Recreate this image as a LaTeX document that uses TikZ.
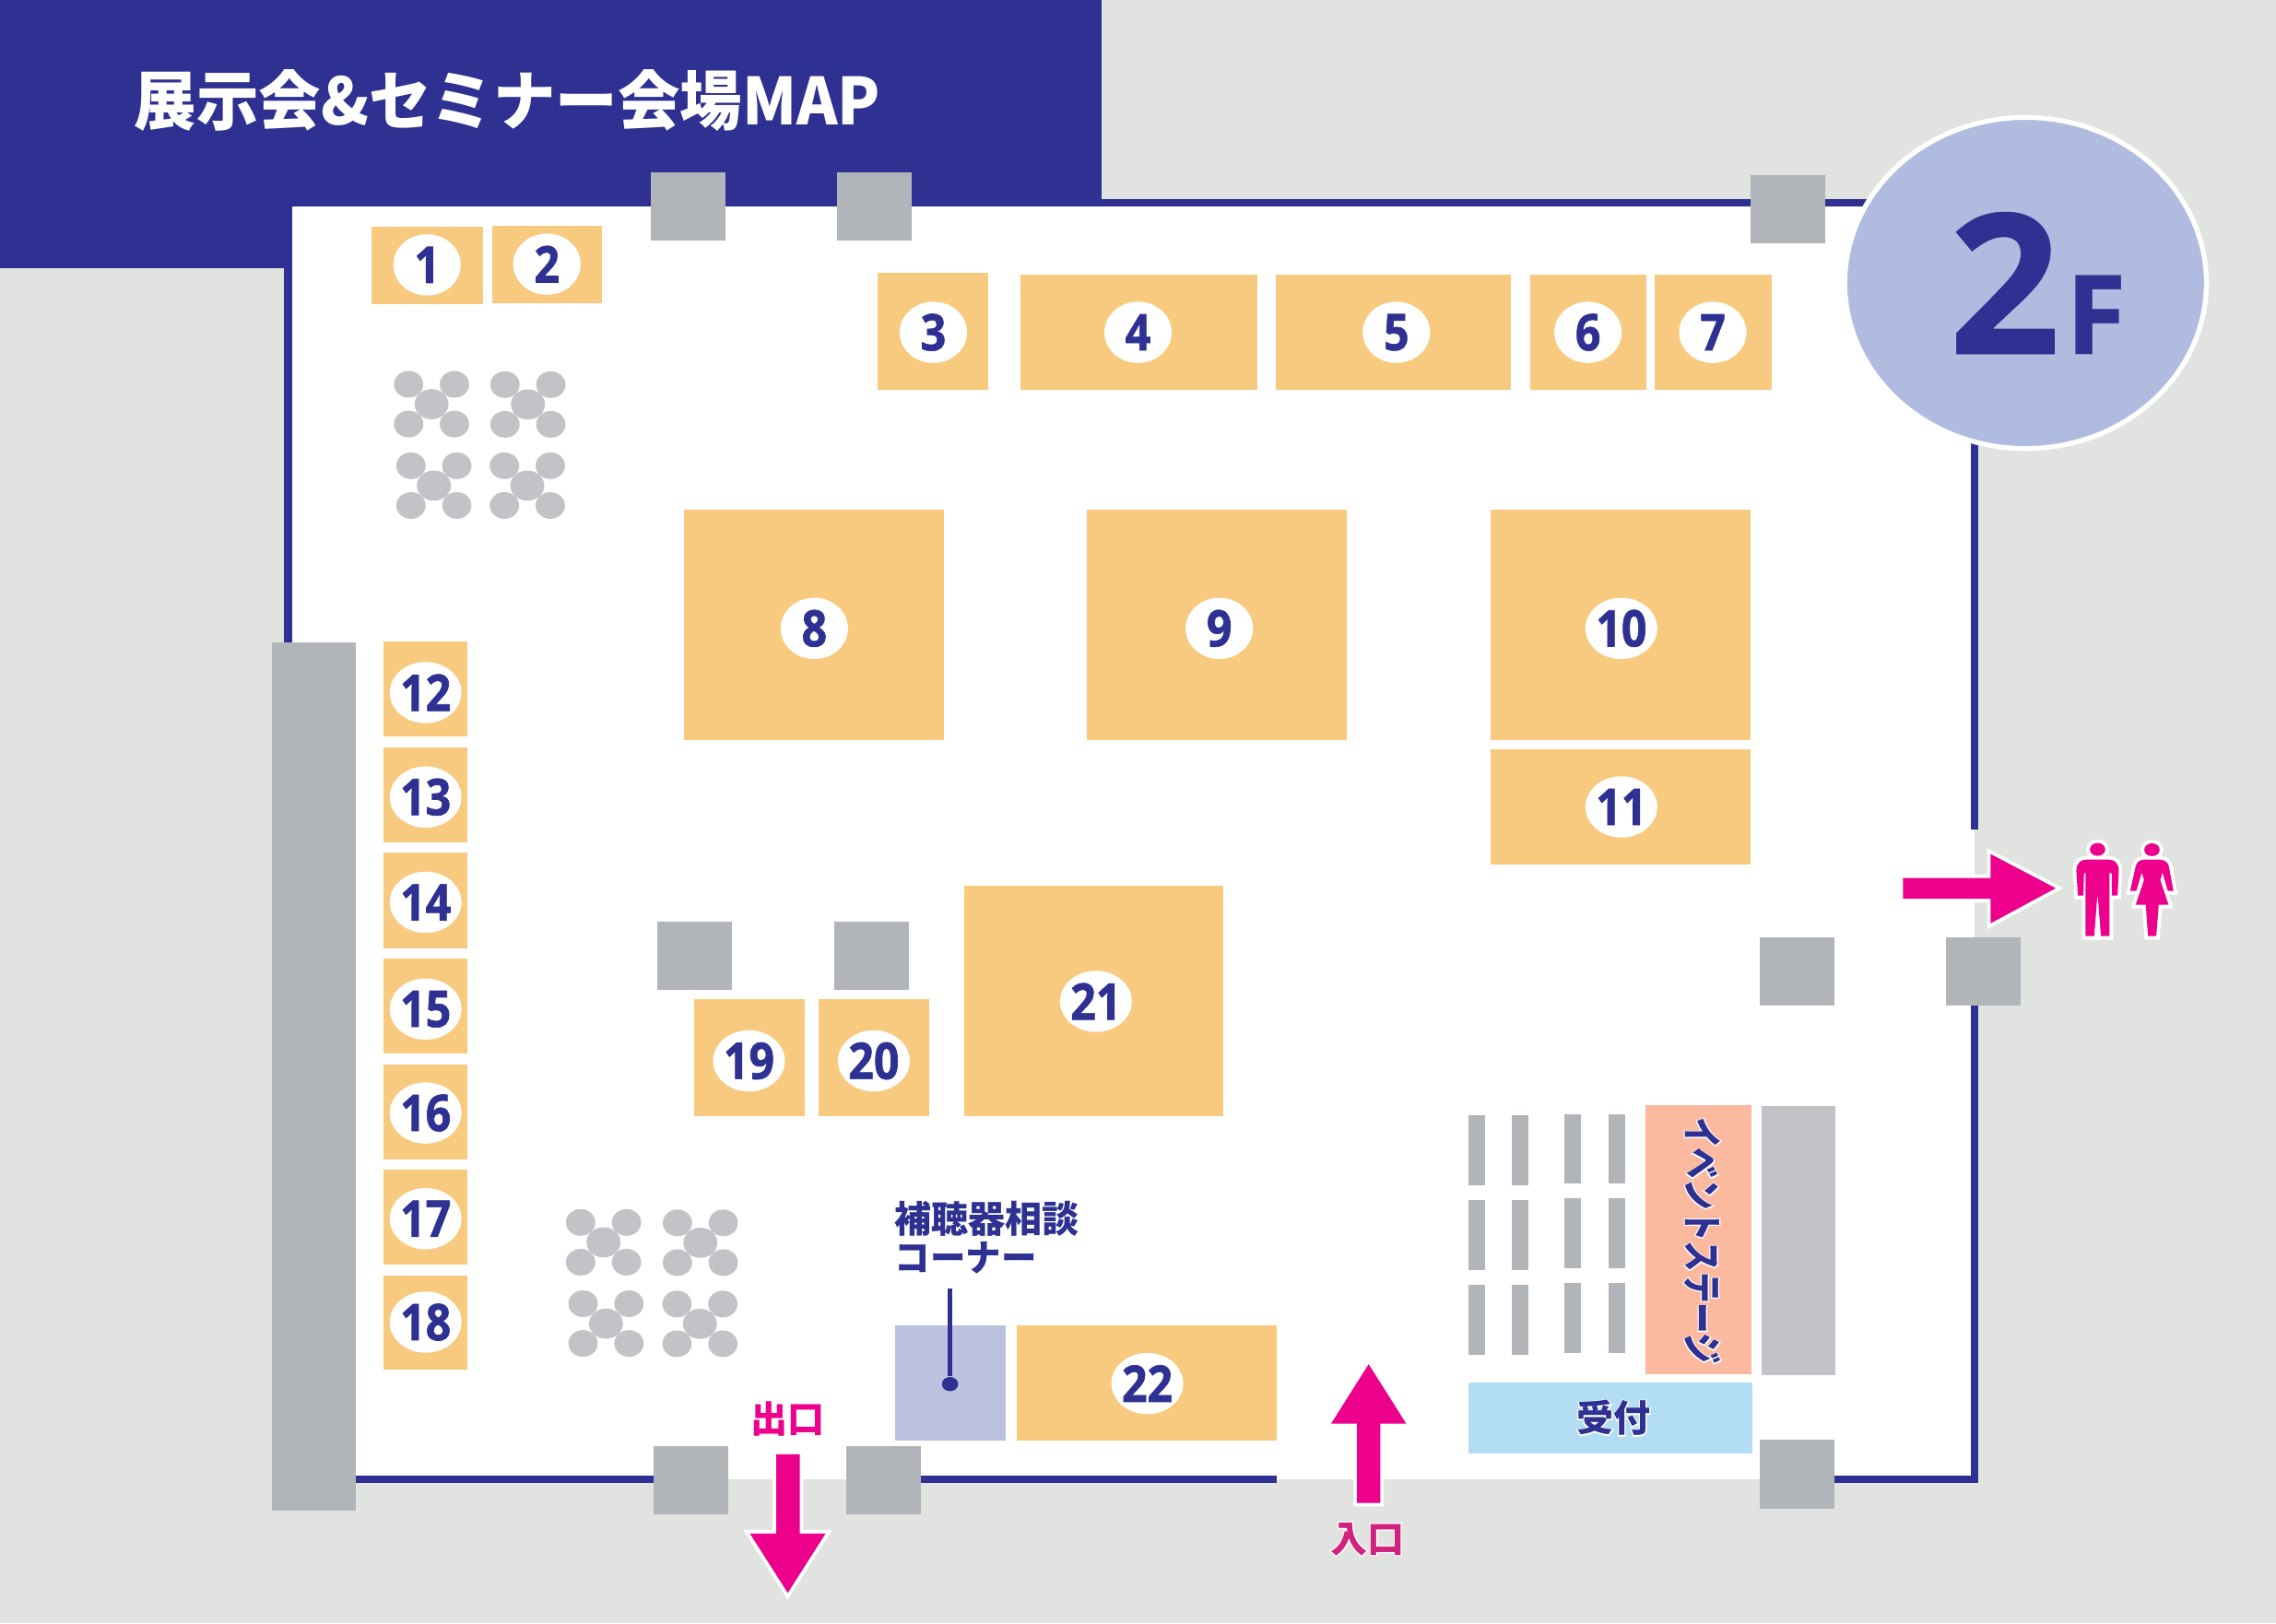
\documentclass[tikz,border=0pt]{standalone}
\usepackage{fontspec}
\usetikzlibrary{shapes.geometric}
\newfontfamily\jpfont{Noto Sans CJK JP}
\newfontfamily\jphalo{Noto Sans CJK JP}[BoldFeatures={FakeBold=6}]
\newfontfamily\numfont{Open Sans}[FakeStretch=.88,BoldFeatures={FakeBold=1.2}]
\newfontfamily\badgefont{Open Sans}[BoldFeatures={FakeBold=.3}]
\definecolor{groundgrey}{HTML}{E1E3E0}
\definecolor{wallnavy}{HTML}{2E3192}
\definecolor{boothorange}{HTML}{F8CA7F}
\definecolor{pillargrey}{HTML}{B1B4B8}
\definecolor{tablegrey}{HTML}{C1C3C6}
\definecolor{floorblue}{HTML}{AFBCDF}
\definecolor{signpink}{HTML}{EC008C}
\definecolor{enterpink}{HTML}{D0237F}
\definecolor{hearinglilac}{HTML}{BCC1E0}
\definecolor{stagesalmon}{HTML}{FBB9A0}
\definecolor{deskblue}{HTML}{B3DDF2}
\tikzset{
  numlabel/.style={ellipse,fill=white,inner sep=0pt,minimum width=20.8pt,minimum height=18.9pt,text=wallnavy,font=\numfont\bfseries\fontsize{15.6}{16}\selectfont},
  jplabel/.style={inner sep=0pt,text=wallnavy,font=\jpfont\bfseries\fontsize{11.4}{12}\selectfont},
  halolabel/.style={inner sep=0pt,text=white,font=\jphalo\bfseries\fontsize{11.4}{12}\selectfont},
  signshape/.style={fill=signpink,preaction={draw=white,line width=2.2pt,miter limit=10}},
  chair/.style={fill=tablegrey},
}
\begin{document}
\begin{tikzpicture}[x=.015746cm,y=-.015746cm]
\useasboundingbox (0,0) rectangle (1568,1118.4);
\fill[groundgrey] (0,0) rectangle (1568,1118.4);
% floor and title panel
\fill[white] (201,142) rectangle (1360.5,1019);
\fill[wallnavy] (0,0) rectangle (759,142);
\fill[wallnavy] (0,142) rectangle (201,184.7);
\node[anchor=west,inner sep=0pt,text=white,font=\jpfont\bfseries\fontsize{20}{21}\selectfont] (title) at (92,69) {\scalebox{.96}[1]{展示会\&セミナー会場MAP}};
% walls
\fill[wallnavy] (195.7,184) rectangle (201,444);
\fill[wallnavy] (759,137.2) rectangle (1290,142.3);
\fill[wallnavy] (1357.8,300) rectangle (1363,571.6);
\fill[wallnavy] (1357.8,690) rectangle (1363,1021.7);
\fill[wallnavy] (244,1016.8) rectangle (452,1021.9);
\fill[wallnavy] (633,1016.8) rectangle (879.4,1021.9);
\fill[wallnavy] (1262,1016.7) rectangle (1363,1021.7);
% pillars
\foreach \xa/\ya/\xb/\yb in {448.4/118.8/499.8/165.7,576.8/118.8/628.2/165.7,1205.9/120.7/1257.2/167.4,
  452.5/635/504/682,574.5/635/626/682,1212.4/645.9/1263.8/692.7,1340.9/645.9/1392.3/692.7,
  187.1/442.9/245.1/1041,450.3/996.7/501.7/1043.6,583.1/996.7/634.7/1043.6,1212.4/992.2/1263.7/1039.3}
  \fill[pillargrey] (\xa,\ya) rectangle (\xb,\yb);
% booths
\foreach \n/\xa/\ya/\xb/\yb/\xc/\yc in {1/256/156.5/332.5/209.5/294.2/182.5,2/339/155.7/415/209/376.8/182,
  3/604.8/188/681/268.4/643/229,4/703/189.4/866/268.4/784/229,5/879/189.4/1041/268.4/962/229,
  6/1054/189.4/1134.5/268.4/1094/229,7/1140/189.4/1220.6/268.4/1180/229,
  8/471.5/351/650.5/510/561/433,9/749/351/928/510/840/433,10/1027/351/1206/510/1117/433,
  11/1027/516/1206/595.5/1117/556,
  12/264.2/441.9/322.2/507.7/293.2/477.2,13/264.2/514.8/322.2/580.7/293.2/549.2,14/264.2/587.4/322.2/653.2/293.2/621.7,
  15/264.2/660.3/322.2/725.8/293.2/695.3,16/264.2/733.2/322.2/798.7/293.2/766.9,17/264.2/805.8/322.2/871.2/293.2/839.7,
  18/264.2/878.7/322.2/944/293.2/911,
  19/478/688.5/554.5/769/516/731,20/564/688.5/640/769/602/731,21/664/610/843/769/755/690,
  22/700.7/913.4/879.4/992.8/790.4/953.3}
{
  \fill[boothorange] (\xa,\ya) rectangle (\xb,\yb);
  \node[numlabel] (num\n) at (\xc,\yc) {\n};
}
% rest tables
\foreach \cx/\cy in {297.3/278.5,363.7/278.7,298.9/334.6,363.3/334.6,415.8/856,482.5/856.3,417.5/912,482.2/912.2}
{
  \foreach \dx in {-15.8,15.8}
    \foreach \dy in {-13.7,13.7}
      \fill[chair] (\cx+\dx,\cy+\dy) ellipse [x radius=10.1,y radius=9.2];
  \fill[chair] (\cx,\cy) ellipse [x radius=11.7,y radius=10.4];
}
% hearing aid corner
\fill[hearinglilac] (616.5,913.4) rectangle (692.8,992.8);
\node[jplabel,anchor=west] (hearingtop) at (616,839.5) {補聴器相談};
\node[jplabel,anchor=west] (hearingbottom) at (616,867) {\scalebox{.96}[1]{コーナー}};
\coordinate (hearingstart) at (654.5,887.6);
\node[ellipse,fill=wallnavy,inner sep=0pt,minimum width=5pt,minimum height=4.4pt] (hearingdot) at (654.5,953.7) {};
\draw[wallnavy,line width=1.5pt] (hearingstart) -- (hearingdot);
% event stage
\foreach \xa/\xb in {1011.6/1023.2,1041.4/1053}
  \foreach \ya/\yb in {768.7/817,827/875.2,885.5/933.6}
    \fill[pillargrey] (\xa,\ya) rectangle (\xb,\yb);
\foreach \xa/\xb in {1078/1089.3,1107.9/1119.5}
  \foreach \ya/\yb in {767.5/815.2,825.6/873.6,884.3/932}
    \fill[pillargrey] (\xa,\ya) rectangle (\xb,\yb);
\fill[stagesalmon] (1133.6,761.5) rectangle (1206.6,946.9);
\fill[tablegrey] (1213.7,762) rectangle (1264.4,947.5);
\node[halolabel,rotate=-90,font=\jphalo\bfseries\fontsize{12.4}{13}\selectfont] (stagehalo) at (1172.7,855) {\scalebox{.77}[1]{イベントステージ}};
\node[jplabel,rotate=-90,font=\jpfont\bfseries\fontsize{12.4}{13}\selectfont] (stage) at (1172.7,855) {\scalebox{.77}[1]{イベントステージ}};
\fill[deskblue] (1011.6,952.4) rectangle (1207,1001.8);
\node[halolabel] (deskhalo) at (1111.5,977) {受付};
\node[jplabel] (desk) at (1111.5,977) {受付};
% arrows
\fill[signshape] (1311,605) -- (1371.4,605) -- (1371.4,588.5) -- (1416.2,612) -- (1371.4,636.2) -- (1371.4,619.3) -- (1311,619.3) -- cycle;
\fill[signshape] (534.8,1002) -- (551,1002) -- (551,1056.6) -- (568.8,1056.6) -- (542.7,1097.6) -- (516.6,1056.6) -- (534.8,1056.6) -- cycle;
\fill[signshape] (942.9,940) -- (968.8,981) -- (951,981) -- (951,1035.5) -- (934.9,1035.5) -- (934.9,981) -- (917,981) -- cycle;
\node[jplabel,text=signpink] (exit) at (542.7,978) {出口};
\node[halolabel] (enterhalo) at (942,1060.5) {入口};
\node[jplabel,text=enterpink] (enter) at (942,1060.5) {入口};
% rest rooms
\begin{scope}[shift={(1257.5,539.8)},scale=.2117]
\fill[signshape] (886,215) ellipse [x radius=25,y radius=21];
\fill[signshape] (817,285) .. controls (817,258) and (832,248) .. (850,248) -- (922,248) .. controls (940,248) and (955,258) .. (955,285)
  -- (951,365) -- (933,365) -- (932,292) -- (925,292) -- (925,497) -- (897,497) -- (887,370) -- (885,370) -- (875,497) -- (847,497) -- (847,292) -- (842,292) -- (840,365) -- (822,365) -- cycle;
\fill[signshape] (1063,216) ellipse [x radius=25,y radius=21];
\fill[signshape] (1010,270) .. controls (1013,255) and (1025,248) .. (1040,248) -- (1087,248) .. controls (1102,248) and (1115,255) .. (1118,270)
  -- (1133,350) -- (1115,350) -- (1097,290) -- (1090,315) -- (1117,395) -- (1085,395) -- (1077,497) -- (1050,497) -- (1043,395) -- (1010,395) -- (1037,315) -- (1030,290) -- (1012,350) -- (992,350) -- cycle;
\end{scope}
% floor badge
\node[ellipse,fill=floorblue,draw=white,line width=1.5pt,inner sep=0pt,minimum width=250pt*.4464,minimum height=229pt*.4464] (badge) at (1395.5,195) {};
\node[inner sep=0pt,anchor=base,text=wallnavy,font=\badgefont\bfseries\fontsize{60.5}{61}\selectfont] (badgetwo) at (1381,243.9) {2};
\node[inner sep=0pt,anchor=base,text=wallnavy,font=\badgefont\bfseries\fontsize{34}{35}\selectfont] (badgef) at (1444,243.9) {F};
\end{tikzpicture}
\end{document}
